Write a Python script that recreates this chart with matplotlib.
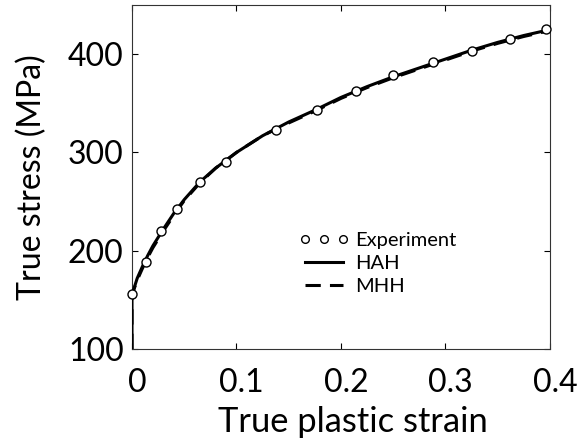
"""Flow curve: experiment vs HAH / MHH model."""
import matplotlib
matplotlib.use('Agg')
import matplotlib.pyplot as plt
from matplotlib.transforms import ScaledTranslation

# experiment points
exp_strain = [0.0, 0.0134, 0.028, 0.043, 0.065, 0.0897, 0.1375, 0.177,
              0.214, 0.25, 0.288, 0.325, 0.362, 0.396]
exp_stress = [155.7, 188.6, 220.5, 242.9, 270.0, 290.0, 323.3, 343.4,
              362.7, 378.3, 392.0, 403.5, 415.0, 425.2]

# model curves
hah_strain = [0.0, 0.0, 0.002, 0.005, 0.01, 0.015, 0.02, 0.03, 0.04, 0.05,
              0.065, 0.08, 0.1, 0.125, 0.15, 0.175, 0.2, 0.225, 0.25,
              0.275, 0.3, 0.325, 0.35, 0.375, 0.4]
hah_stress = [100, 155, 162, 172, 184, 195, 205, 222, 238, 252, 270, 284,
              300, 317, 331, 343, 356, 367, 377, 386, 395, 404, 412, 419, 425]
mhh_strain = hah_strain
mhh_stress = [100, 155, 161, 170, 182, 193, 203, 220, 236, 251, 269, 284,
              300, 317, 330, 342, 355, 366, 376, 385, 394, 403, 411, 418, 424]

plt.rcParams['font.family'] = ['Lato', 'DejaVu Sans']

W, H = 582, 444
fig = plt.figure(figsize=(W / 100, H / 100), dpi=100)
ax = fig.add_axes([0.2268, 0.214, 0.7182, 0.7747])

ax.plot(mhh_strain, mhh_stress, color='black', lw=2.2, ls=(0, (5, 3)),
        label='MHH', zorder=2)
ax.plot(hah_strain, hah_stress, color='black', lw=2.2, label='HAH', zorder=3)
ax.plot(exp_strain, exp_stress, 'o', color='black', mfc='white', mew=1.0,
        ms=6.5, label='Experiment', zorder=4, clip_on=False)

ax.set_xlim(0, 0.4)
ax.set_ylim(100, 450)
ax.set_xticks([0, 0.1, 0.2, 0.3, 0.4])
ax.set_xticklabels(['0', '0.1', '0.2', '0.3', '0.4'])
ax.set_yticks([100, 200, 300, 400])
ax.tick_params(direction='in', top=True, right=True, length=4, width=0.8,
               labelsize=23, pad=6)
ax.tick_params(axis='x', pad=14)
# x tick labels sit a few pixels right of their ticks in the original
shift = ScaledTranslation(5 / 100, 0, fig.dpi_scale_trans)
for lab in ax.get_xticklabels():
    lab.set_transform(lab.get_transform() + shift)
for s in ax.spines.values():
    s.set_linewidth(0.8)
    s.set_color('#333333')

ax.set_ylabel('True stress (MPa)', fontsize=23, labelpad=15)

# x label: fit to the span it covers in the original (x 218..487 px)
xl = ax.set_xlabel('True plastic strain', fontsize=26)
xl.set_horizontalalignment('left')
xl.set_verticalalignment('baseline')
ax.xaxis.set_label_coords(218 / W, (H - 432) / H, transform=fig.transFigure)
r = fig.canvas.get_renderer()
w = xl.get_window_extent(r).width
xl.set_fontsize(26 * 269 / w)

h, l = ax.get_legend_handles_labels()
order = [2, 1, 0]
ax.legend([h[i] for i in order], [l[i] for i in order], loc='upper left',
          bbox_to_anchor=(0.38, 0.365), frameon=False, fontsize=14.5,
          numpoints=3, markerscale=0.85, handlelength=2.5, handletextpad=0.3,
          labelspacing=0.3, borderaxespad=0)

fig.savefig('out.png', dpi=100)
